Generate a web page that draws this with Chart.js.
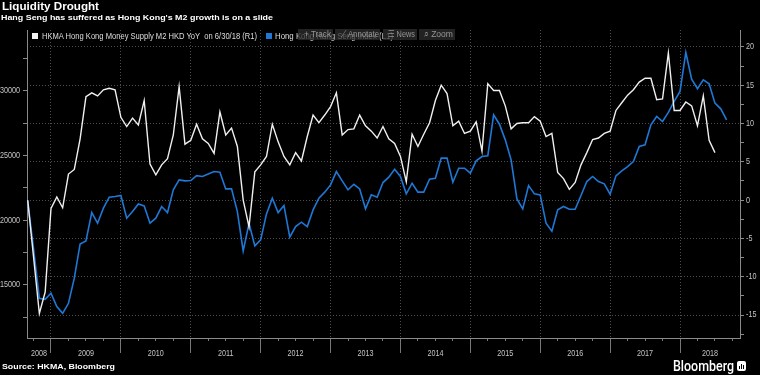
<!DOCTYPE html>
<html><head><meta charset="utf-8">
<script src="https://cdn.jsdelivr.net/npm/chart.js@4.4.0/dist/chart.umd.min.js"></script>
<style>
html,body{margin:0;padding:0;background:#000;}
#wrap{position:relative;width:760px;height:375px;overflow:hidden;background:#000;}
#c{position:absolute;left:0;top:0;}
.t{position:absolute;white-space:nowrap;transform-origin:0 0;line-height:1;}
.fitbold{font-family:'Liberation Sans',Arial,sans-serif;font-weight:bold;color:#fff;}
.lg{font-family:'Liberation Sans',sans-serif;color:#ddd;}
.sq{position:absolute;width:6px;height:6px;}
.btn{position:absolute;background:rgba(45,45,45,0.75);height:11px;}
.btxt{font-family:'Liberation Sans',sans-serif;color:rgba(160,160,160,0.9);font-size:9px;}
#logoicon{position:absolute;left:737px;top:361px;width:9px;height:10px;background:#fff;border-radius:2px;}
#logoicon i{position:absolute;bottom:2px;width:1px;background:#000;}
</style></head>
<body><div id="wrap">
<canvas id="c" width="760" height="375"></canvas>
<div class="t fitbold" data-w="97" style="left:2px;top:1.2px;font-size:11px;">Liquidity Drought</div>
<div class="t fitbold" data-w="272" style="left:1px;top:13.9px;font-size:8px;">Hang Seng has suffered as Hong Kong's M2 growth is on a slide</div>
<div class="sq" style="left:32px;top:33px;background:#f2f2f2;"></div>
<div class="t lg" data-w="215" style="left:42px;top:31.7px;font-size:8.5px;">HKMA Hong Kong Money Supply M2 HKD YoY&nbsp;&nbsp;on 6/30/18 (R1)</div>
<div class="sq" style="left:266px;top:33px;background:#1f78d6;"></div>
<div class="t lg" data-w="118" style="left:275px;top:31.7px;font-size:8.5px;">Hong Kong Hang Seng Index (L1)</div>
<div class="btn" style="left:298px;top:29px;width:35px;"></div>
<div class="btn" style="left:335px;top:29px;width:45px;"></div>
<div class="btn" style="left:383px;top:29px;width:34px;"></div>
<div class="btn" style="left:419px;top:29px;width:36px;"></div>
<div class="t btxt" data-w="27" style="left:304px;top:30px;">+ Track</div>
<div class="t btxt" data-w="38" style="left:341px;top:30px;">⟋ Annotate</div>
<div class="t btxt" data-w="27" style="left:388px;top:30px;">☰ News</div>
<div class="t btxt" data-w="29" style="left:424px;top:30px;">⌕ Zoom</div>
<div class="t fitbold" data-w="113" style="left:2px;top:363.2px;font-size:8px;">Source: HKMA, Bloomberg</div>
<div class="t" data-w="61" style="left:673px;top:358.5px;font-family:Roboto,'Liberation Sans',sans-serif;font-weight:500;font-size:14px;color:#fff;">Bloomberg</div>
<div id="logoicon"><i style="left:2px;height:3px"></i><i style="left:4px;height:5px"></i><i style="left:6px;height:4px"></i></div>
</div>
<script>
// ---- data (month-end values) ----
const firstMonth = [2008, 8]; // August 2008
const m2YoY = [0.0,-7.4,-14.8,-12.0,
 -1.1,0.4,-1.0,3.4,4.0,8.0,13.5,14.0,13.6,14.4,14.6,14.4,
 10.8,9.6,10.7,9.8,13.0,4.7,3.3,4.6,5.4,8.5,14.8,7.3,
 7.8,9.9,8.0,7.4,6.1,11.5,8.5,9.4,7.0,0.0,-3.5,3.7,
 4.6,5.7,9.9,7.6,5.7,4.6,6.2,5.1,8.3,11.1,10.1,11.1,
 12.2,14.0,8.5,9.2,9.3,11.1,9.7,9.0,8.1,9.6,8.0,7.4,
 5.7,2.4,8.6,7.0,8.6,10.1,13.0,15.0,13.9,9.7,10.3,8.7,
 9.0,10.2,6.4,15.2,14.3,14.3,12.3,9.3,10.0,10.1,10.1,10.9,
 10.3,8.3,8.7,3.6,2.8,1.4,2.3,4.6,6.2,7.9,8.1,8.7,
 9.0,11.7,12.7,13.7,14.4,15.4,15.9,15.9,13.1,13.2,19.2,11.7,
 11.7,12.8,12.3,9.7,13.6,7.8,6.2];
const hangSeng = [21500,17800,13970,13890,
 14360,13330,12810,13580,15520,18170,18400,20590,19770,20930,21780,21830,
 21910,20160,20670,21260,21110,19770,20160,21060,20590,22350,23120,23040,
 23070,23450,23380,23580,23760,23710,22420,22420,20670,17630,19770,18020,
 18480,20490,21700,20590,21140,18690,19510,19850,19510,20800,21700,22170,
 22730,23760,23040,22350,22780,22420,20880,21960,21780,22910,23330,23940,
 23380,22040,22860,22170,22170,23170,23250,24800,24800,22940,24020,24020,
 23640,24590,24920,24980,28150,27420,26210,24670,21650,20880,22680,22040,
 21960,19770,19160,20800,21060,20850,20850,21910,22990,23380,22990,22810,
 22010,23430,23820,24150,24540,25700,25830,27370,28020,27630,28330,29180,
 29950,32960,30900,30160,30850,30540,29050,28610,27760];
const yearLabels = ['2008','2009','2010','2011','2012','2013','2014','2015','2016','2017','2018'];
const seriesNames = ['HKMA Hong Kong Money Supply M2 HKD YoY  on 6/30/18 (R1)','Hong Kong Hang Seng Index (L1)'];

// ---- axis ranges ----
const XMIN = 2008.6566, XMAX = 2018.8585;
const LMIN = 10900, LMAX = 34700;
const RMIN = -18.0, RMAX = 22.2;

function monthEndX(i){ return firstMonth[0] + (firstMonth[1] + i) / 12; }
const m2Pts = m2YoY.map((v,i)=>({x:monthEndX(i), y:v}));
const hsPts = hangSeng.map((v,i)=>({x:monthEndX(i), y:v}));

const FONT = "'Liberation Sans',Arial,sans-serif";
const GRID = '#4e4e4e', TICK = '#8a8a8a', AXIS = '#8a8a8a', LBL = '#c4c4c4';

function stepTicks(min, max, step){ const out=[]; for(let v=Math.ceil(min/step)*step; v<=max+1e-9; v+=step) out.push({value:+v.toFixed(6)}); return out; }
const leftLabel = v => (v%5000===0 ? String(v) : '');
const rightLabel = v => (v%5===0 ? String(v) : '');
const yearLabel = v => yearLabels.find(y=>+y===Math.floor(v)) || '';

// axis tick labels drawn in a condensed face (the reference uses a narrow font)
const condensedLabels = {
  id:'condensedLabels',
  afterDraw(chart){
    const ctx = chart.ctx;
    const put = (txt, x, y, align) => {
      if (!txt) return;
      ctx.save(); ctx.translate(x, y); ctx.scale(0.8, 1);
      ctx.textAlign = align; ctx.textBaseline = 'middle'; ctx.fillText(txt, 0, 0); ctx.restore();
    };
    ctx.save();
    ctx.font = '9px ' + FONT; ctx.fillStyle = LBL;
    const sL = chart.scales.yL, sR = chart.scales.yR, sX = chart.scales.x;
    sL.ticks.forEach(t=>put(leftLabel(t.value), sL.right - 7, sL.getPixelForValue(t.value), 'right'));
    sR.ticks.forEach(t=>put(rightLabel(t.value), sR.left + 6, sR.getPixelForValue(t.value), 'left'));
    sX.ticks.forEach(t=>put(yearLabel(t.value), sX.getPixelForValue(t.value), sX.top + 16, 'center'));
    ctx.restore();
  }
};

new Chart(document.getElementById('c'), {
  type:'line',
  data:{datasets:[
    {label:seriesNames[0], data:m2Pts, xAxisID:'x', yAxisID:'yR', borderColor:'#f0f0f0', borderWidth:1.4, pointRadius:0, tension:0, fill:false},
    {label:seriesNames[1], data:hsPts, xAxisID:'x', yAxisID:'yL', borderColor:'#1f78d6', borderWidth:1.6, pointRadius:0, tension:0, fill:false}
  ]},
  plugins:[condensedLabels],
  options:{
    responsive:false, animation:false, devicePixelRatio:1,
    layout:{padding:{top:30,left:0,right:0,bottom:0}},
    plugins:{legend:{display:false}, tooltip:{enabled:false}},
    scales:{
      xg:{type:'linear', position:'bottom', weight:0, min:XMIN, max:XMAX,
        afterBuildTicks:s=>{ s.ticks = stepTicks(XMIN, XMAX, 1).filter(t=>t.value>XMIN && t.value<XMAX); },
        afterFit:s=>{ s.height = 0; },
        ticks:{display:false},
        grid:{color:GRID, drawOnChartArea:true, drawTicks:true, tickLength:15, tickColor:'#777', tickBorderDash:[]},
        border:{display:true, color:AXIS, dash:[1,2]}},
      xq:{type:'linear', position:'bottom', weight:1, min:XMIN, max:XMAX,
        afterBuildTicks:s=>{ s.ticks = stepTicks(XMIN, XMAX, 0.25).filter(t=>Math.abs(t.value-Math.round(t.value))>1e-6); },
        afterFit:s=>{ s.height = 0; },
        ticks:{display:false},
        grid:{drawOnChartArea:false, drawTicks:true, tickLength:3, tickColor:'#777'},
        border:{display:false}},
      x:{type:'linear', position:'bottom', weight:2, min:XMIN, max:XMAX,
        afterBuildTicks:s=>{ s.ticks = yearLabels.map(y=>{ const lo=Math.max(+y,XMIN), hi=Math.min(+y+1,XMAX); return {value:(lo+hi)/2}; }); },
        afterFit:s=>{ s.height = 37; },
        ticks:{display:false, autoSkip:false, maxRotation:0, callback:yearLabel},
        grid:{display:false, drawTicks:false},
        border:{display:false}},
      yL:{type:'linear', position:'left', min:LMIN, max:LMAX,
        afterBuildTicks:s=>{ s.ticks = stepTicks(LMIN, LMAX, 2500); },
        afterFit:s=>{ s.width = 27; },
        ticks:{display:false, callback:leftLabel},
        grid:{drawOnChartArea:false, drawTicks:true, tickLength:4, tickColor:TICK},
        border:{display:true, color:AXIS}},
      yR:{type:'linear', position:'right', min:RMIN, max:RMAX,
        afterBuildTicks:s=>{ s.ticks = stepTicks(RMIN, RMAX, 2.5); },
        afterFit:s=>{ s.width = 20; },
        ticks:{display:false, callback:rightLabel},
        grid:{color:c=> (c.tick && c.tick.value%5===0 ? GRID : 'rgba(0,0,0,0)'), drawOnChartArea:true, drawTicks:true, tickLength:4, tickColor:TICK, tickBorderDash:[]},
        border:{display:true, color:AXIS, dash:[1,2]}}
    }
  }
});

// fit overlay texts to their measured widths in the reference
document.querySelectorAll('.t[data-w]').forEach(el=>{
  const w = el.getBoundingClientRect().width;
  if (w>0) el.style.transform = 'scaleX(' + (parseFloat(el.dataset.w)/w) + ')';
});
</script>
</body></html>
